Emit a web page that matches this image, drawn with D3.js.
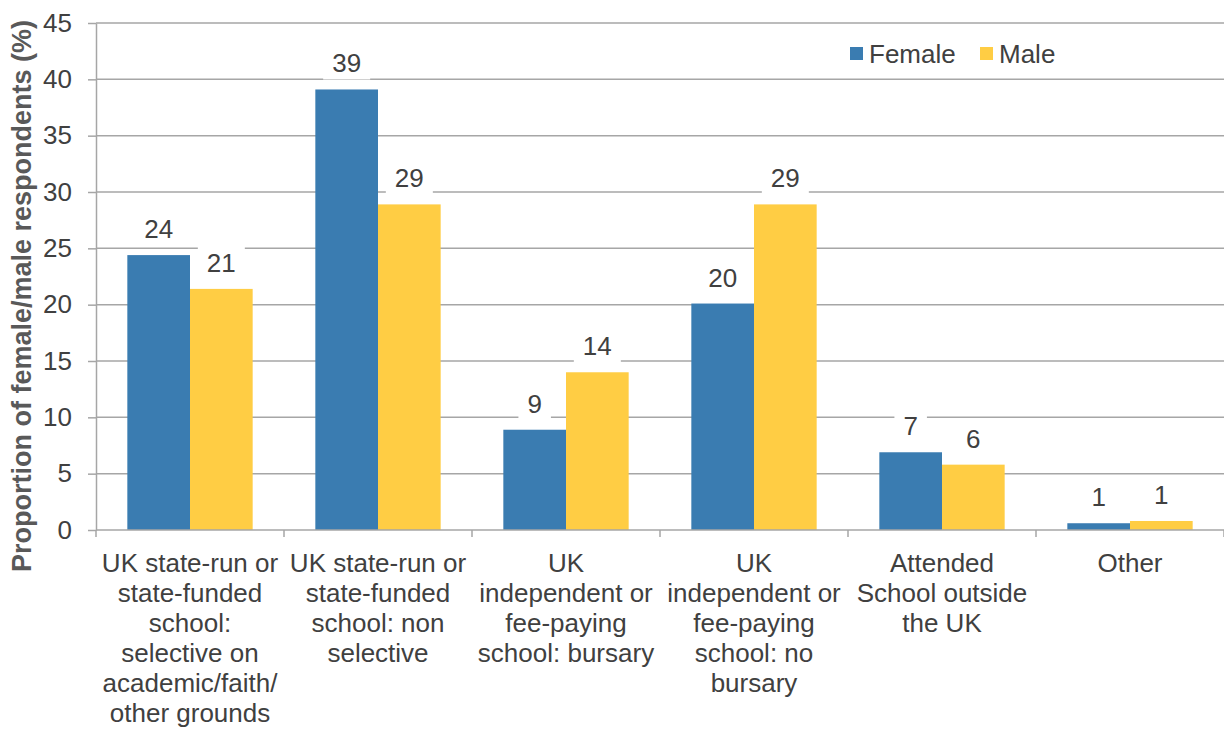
<!DOCTYPE html>
<html>
<head>
<meta charset="utf-8">
<script src="https://cdn.jsdelivr.net/npm/d3@7/dist/d3.min.js"></script>
<style>
  html, body { margin: 0; padding: 0; background: #fff; }
  svg { display: block; font-family: "Liberation Sans", Arial, sans-serif; }
</style>
</head>
<body>
<svg id="chart" width="1224" height="729"></svg>
<script>
// School type categories (each entry is a list of label lines)
const categories = [
  ["UK state-run or", "state-funded", "school:", "selective on", "academic/faith/", "other grounds"],
  ["UK state-run or", "state-funded", "school: non", "selective"],
  ["UK", "independent or", "fee-paying", "school: bursary"],
  ["UK", "independent or", "fee-paying", "school: no", "bursary"],
  ["Attended", "School outside", "the UK"],
  ["Other"]
];
const seriesNames = ["Female", "Male"];
const femaleValues = [24.4, 39.1, 8.9, 20.1, 6.9, 0.6];
const maleValues = [21.4, 28.9, 14.0, 28.9, 5.8, 0.8];
const yTicks = [0, 5, 10, 15, 20, 25, 30, 35, 40, 45];
const colors = { Female: "#3a7cb1", Male: "#ffcd44" };

const svg = d3.select("#chart");
const margin = { left: 96, right: 0, top: 23, bottom: 199 };
const W = 1224, H = 729;
const innerW = W - margin.left - margin.right;
const innerH = H - margin.top - margin.bottom;
const fontSize = "26px";

const g = svg.append("g").attr("transform", `translate(${margin.left},${margin.top})`);

const x0 = d3.scaleBand().domain(d3.range(categories.length)).range([0, innerW]).paddingInner(0).paddingOuter(0);
const x1 = d3.scaleBand().domain(seriesNames).range([x0.bandwidth() / 6, x0.bandwidth() * 5 / 6]).padding(0);
const y = d3.scaleLinear().domain([0, 45]).range([innerH, 0]);

const gridColor = "#a6a6a6";
const textColor = "#404040";

// horizontal gridlines
g.append("g").selectAll("line").data(yTicks.filter(t => t > 0)).join("line")
  .attr("x1", 0).attr("x2", innerW)
  .attr("y1", d => y(d)).attr("y2", d => y(d))
  .attr("stroke", gridColor).attr("stroke-width", 1.5);

// y axis
const yAxis = g.append("g")
  .call(d3.axisLeft(y).tickValues(yTicks).tickSize(8).tickPadding(16).tickSizeOuter(0));
yAxis.select(".domain").attr("stroke", gridColor).attr("stroke-width", 1.5);
yAxis.selectAll(".tick line").attr("stroke", gridColor).attr("stroke-width", 1.5);
yAxis.selectAll(".tick text").attr("fill", textColor)
  .style("font-size", fontSize).style("font-family", "Liberation Sans, Arial, sans-serif");

// bars
const groups = g.append("g").selectAll("g").data(categories).join("g")
  .attr("transform", (d, i) => `translate(${x0(i)},0)`);

const barData = (i) => [
  { key: "Female", value: femaleValues[i] },
  { key: "Male", value: maleValues[i] }
];

groups.selectAll("rect").data((d, i) => barData(i)).join("rect")
  .attr("x", d => x1(d.key))
  .attr("width", x1.bandwidth())
  .attr("y", d => y(d.value))
  .attr("height", d => innerH - y(d.value))
  .attr("fill", d => colors[d.key]);

// value labels with white backing boxes
groups.each(function(d, i) {
  const grp = d3.select(this);
  barData(i).forEach(b => {
    const cx = x1(b.key) + x1.bandwidth() / 2;
    const base = y(b.value) - 17;
    const txt = String(Math.round(b.value));
    const bw = txt.length * 14.5 + 18;
    grp.append("rect")
      .attr("x", cx - bw / 2).attr("y", base - 27)
      .attr("width", bw).attr("height", 34)
      .attr("fill", "#fff");
    grp.append("text")
      .attr("x", cx).attr("y", base)
      .attr("text-anchor", "middle")
      .attr("fill", textColor)
      .style("font-size", fontSize)
      .text(txt);
  });
});

// x axis
const xAxisG = g.append("g").attr("transform", `translate(0,${innerH})`);
xAxisG.append("line").attr("x1", 0).attr("x2", innerW).attr("y1", 0).attr("y2", 0)
  .attr("stroke", gridColor).attr("stroke-width", 1.5);
xAxisG.selectAll("line.tick").data(d3.range(categories.length + 1)).join("line")
  .attr("class", "tick")
  .attr("x1", d => d * x0.bandwidth()).attr("x2", d => d * x0.bandwidth())
  .attr("y1", 0).attr("y2", 7)
  .attr("stroke", gridColor).attr("stroke-width", 1.5);

xAxisG.selectAll("text.cat").data(categories).join("text")
  .attr("class", "cat")
  .attr("text-anchor", "middle")
  .attr("fill", textColor)
  .style("font-size", fontSize)
  .attr("transform", (d, i) => `translate(${x0(i) + x0.bandwidth() / 2},42)`)
  .each(function(lines) {
    d3.select(this).selectAll("tspan").data(lines).join("tspan")
      .attr("x", 0).attr("y", (l, j) => j * 30)
      .text(l => l);
  });

// y axis title
svg.append("text")
  .attr("transform", "translate(31,296) rotate(-90)")
  .attr("text-anchor", "middle")
  .attr("fill", "#595959")
  .style("font-size", "27px")
  .style("font-weight", "bold")
  .text("Proportion of female/male respondents (%)");

// legend
const legend = svg.append("g").attr("transform", "translate(850,54)");
const legendX = [0, 130];
seriesNames.forEach((s, i) => {
  const lg = legend.append("g").attr("transform", `translate(${legendX[i]},0)`);
  lg.append("rect").attr("x", 0).attr("y", -7).attr("width", 13).attr("height", 13).attr("fill", colors[s]);
  lg.append("text").attr("x", 19).attr("y", 9).attr("fill", textColor)
    .style("font-size", fontSize).text(s);
});
</script>
</body>
</html>
